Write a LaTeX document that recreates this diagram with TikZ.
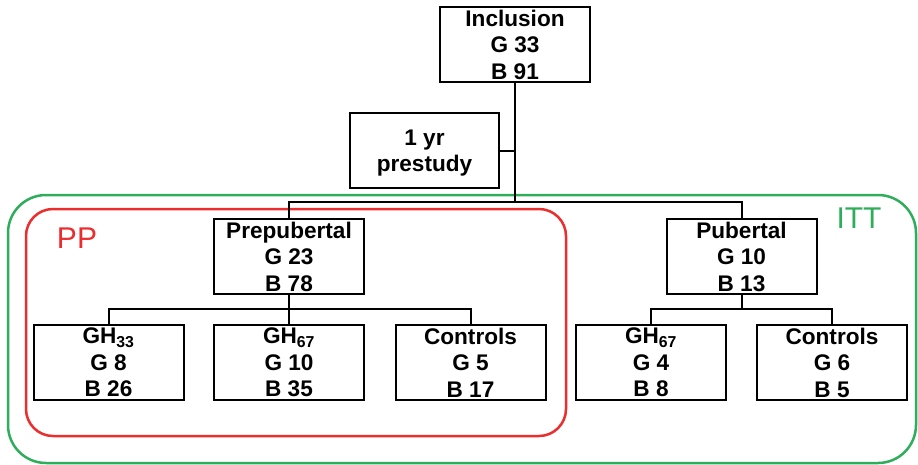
\documentclass[tikz,border=0pt]{standalone}
\usepackage{fontspec}
\setmainfont{Liberation Sans}
\usepackage{xcolor}
\definecolor{ittgreen}{RGB}{46,173,90}
\definecolor{ppred}{RGB}{236,45,45}

\begin{document}
\begin{tikzpicture}[x=1pt,y=-1pt,
    group/.style={draw, line width=2pt, minimum width=150pt, minimum height=75pt,
        inner sep=0pt, align=center, text depth=0pt,
        font=\bfseries\fontsize{22.6}{26.5}\selectfont},
    link/.style={line width=2pt},
    frame/.style={line width=2.5pt, rounded corners=#1},
    tag/.style={font=\fontsize{30}{30}\selectfont}]
        \useasboundingbox (0,0) rectangle (918,464);

        % Рамки
        \draw[frame=38pt, ittgreen] (8,195) rectangle (916,463);
        \draw[frame=27pt, ppred]    (26,209) rectangle (566,436);
        \node[tag, ppred]    (pp)  at (77,238)  {PP};
        \node[tag, ittgreen] (itt) at (859,218) {ITT};

        % Узлы
        \node[group] (incl)  at (515,44.5)   {Inclusion\\G 33\\B 91};
        \node[group, minimum width=149pt] (pre) at (424.5,150.5) {1 yr\\prestudy};
        \node[group] (prep)  at (289,256.5)   {Prepubertal\\G 23\\B 78};
        \node[group] (pub)   at (741.5,256.5) {Pubertal\\G 10\\B 13};
        \node[group] (gha)   at (108.5,362.5) {GH\textsubscript{33}\\G 8\\B 26};
        \node[group] (ghb)   at (289,362.5)   {GH\textsubscript{67}\\G 10\\B 35};
        \node[group] (ctrla) at (470.5,362.5) {Controls\\G 5\\B 17};
        \node[group] (ghc)   at (651,362.5)   {GH\textsubscript{67}\\G 4\\B 8};
        \node[group] (ctrlb) at (832,362.5)   {Controls\\G 6\\B 5};

        % Точки ветвления
        \coordinate (split)     at (515,202);
        \coordinate (prepsplit) at (289,309);
        \coordinate (pubsplit)  at (741.5,309);

        % Линии
        \draw[link] (incl.south) -- (split);
        \draw[link] (pre.east) -- (pre.east -| split);
        \draw[link] (prep.north) |- (split) -| (pub.north);
        \draw[link] (prep.south) -- (ghb.north);
        \draw[link] (gha.north) |- (prepsplit) -| (ctrla.north);
        \draw[link] (pub.south) -- (pubsplit);
        \draw[link] (ghc.north) |- (pubsplit) -| (ctrlb.north);
    \end{tikzpicture}
\end{document}
